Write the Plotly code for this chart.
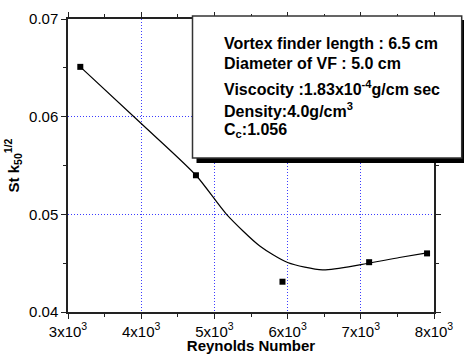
import plotly.graph_objects as go

# measured points
reynolds = [3168, 4748, 5930, 7114, 7905]
st_k = [0.0651, 0.0540, 0.0431, 0.0451, 0.0460]

# fitted curve
fit_re = [3168, 4000, 4748, 5166, 5620, 6000, 6478, 7000, 7527, 7905]
fit_st = [0.0651, 0.0593, 0.0540, 0.0500, 0.04676, 0.04507, 0.04432,
          0.04485, 0.04558, 0.04605]

x_ticks = [3000, 4000, 5000, 6000, 7000, 8000]
x_ticktext = ["3x10<sup>3</sup>", "4x10<sup>3</sup>", "5x10<sup>3</sup>",
              "6x10<sup>3</sup>", "7x10<sup>3</sup>", "8x10<sup>3</sup>"]
y_ticks = [0.04, 0.05, 0.06, 0.07]
y_ticktext = ["0.04", "0.05", "0.06", "0.07"]

info_lines = [
    "Vortex finder length : 6.5 cm",
    "Diameter of VF : 5.0 cm",
    "Viscocity :1.83x10<sup>-4</sup>g/cm sec",
    "Density:4.0g/cm<sup>3</sup>",
    "C<sub>c</sub>:1.056",
]

FONT = "Arial, Liberation Sans, sans-serif"
W, H = 464, 354
ML, MR, MT, MB = 68, 30, 19, 42
PW, PH = W - ML - MR, H - MT - MB


def px(x):
    return (x - ML) / PW


def py(y):
    return (H - MB - y) / PH


fig = go.Figure()
fig.add_trace(go.Scatter(x=fit_re, y=fit_st, mode="lines", line_shape="spline",
                         line=dict(color="black", width=1.2, smoothing=0.7),
                         showlegend=False, hoverinfo="skip"))
fig.add_trace(go.Scatter(x=reynolds, y=st_k, mode="markers",
                         marker=dict(symbol="square", size=6, color="black"),
                         showlegend=False))

axis_common = dict(
    showline=True, linecolor="#222", linewidth=1.5, mirror="ticks",
    ticks="outside", ticklen=5, tickwidth=1.2, tickcolor="#222",
    showgrid=True, gridcolor="#3c3cff", griddash="1px,2px", gridwidth=1,
    zeroline=False, automargin=False,
    tickfont=dict(family=FONT, size=15, color="black"),
)

fig.update_xaxes(range=[3000, 8000], tickvals=x_ticks, ticktext=x_ticktext,
                 minor=dict(dtick=500, ticklen=3, ticks="outside", tickcolor="#222",
                            showgrid=False),
                 title=dict(text="<b>Reynolds Number</b>", standoff=0,
                            font=dict(family=FONT, size=15, color="black")),
                 **axis_common)
fig.update_yaxes(range=[0.04, 0.07], tickvals=y_ticks, ticktext=y_ticktext,
                 minor=dict(dtick=0.005, ticklen=3, ticks="outside", tickcolor="#222",
                            showgrid=False),
                 title=dict(text="<b>St k<sub>50</sub><sup>1/2</sup></b>", standoff=6,
                            font=dict(family=FONT, size=15, color="black")),
                 **axis_common)

# info box with shadow
fig.add_shape(type="rect", xref="paper", yref="paper", layer="above",
              x0=px(196.5), x1=px(466), y0=py(163), y1=py(20),
              fillcolor="black", line=dict(width=0))
fig.add_shape(type="rect", xref="paper", yref="paper", layer="above",
              x0=px(192.5), x1=px(461.7), y0=py(158), y1=py(16),
              fillcolor="white", line=dict(color="#333", width=1.5))

baselines = [49, 69, 93, 115.7, 136]
for txt, b in zip(info_lines, baselines):
    fig.add_annotation(xref="paper", yref="paper", x=px(222), y=py(b - 5.5),
                       xanchor="left", yanchor="middle", showarrow=False,
                       text="<b>" + txt + "</b>",
                       font=dict(family=FONT, size=16, color="black"))

fig.update_layout(width=W, height=H, margin=dict(l=ML, r=MR, t=MT, b=MB, autoexpand=False),
                  plot_bgcolor="white", paper_bgcolor="white",
                  font=dict(family=FONT, color="black"))

fig.write_html("out.html", config={"displayModeBar": False},
               post_script="document.body.style.margin='0';"
                           "document.body.style.overflow='hidden';")
